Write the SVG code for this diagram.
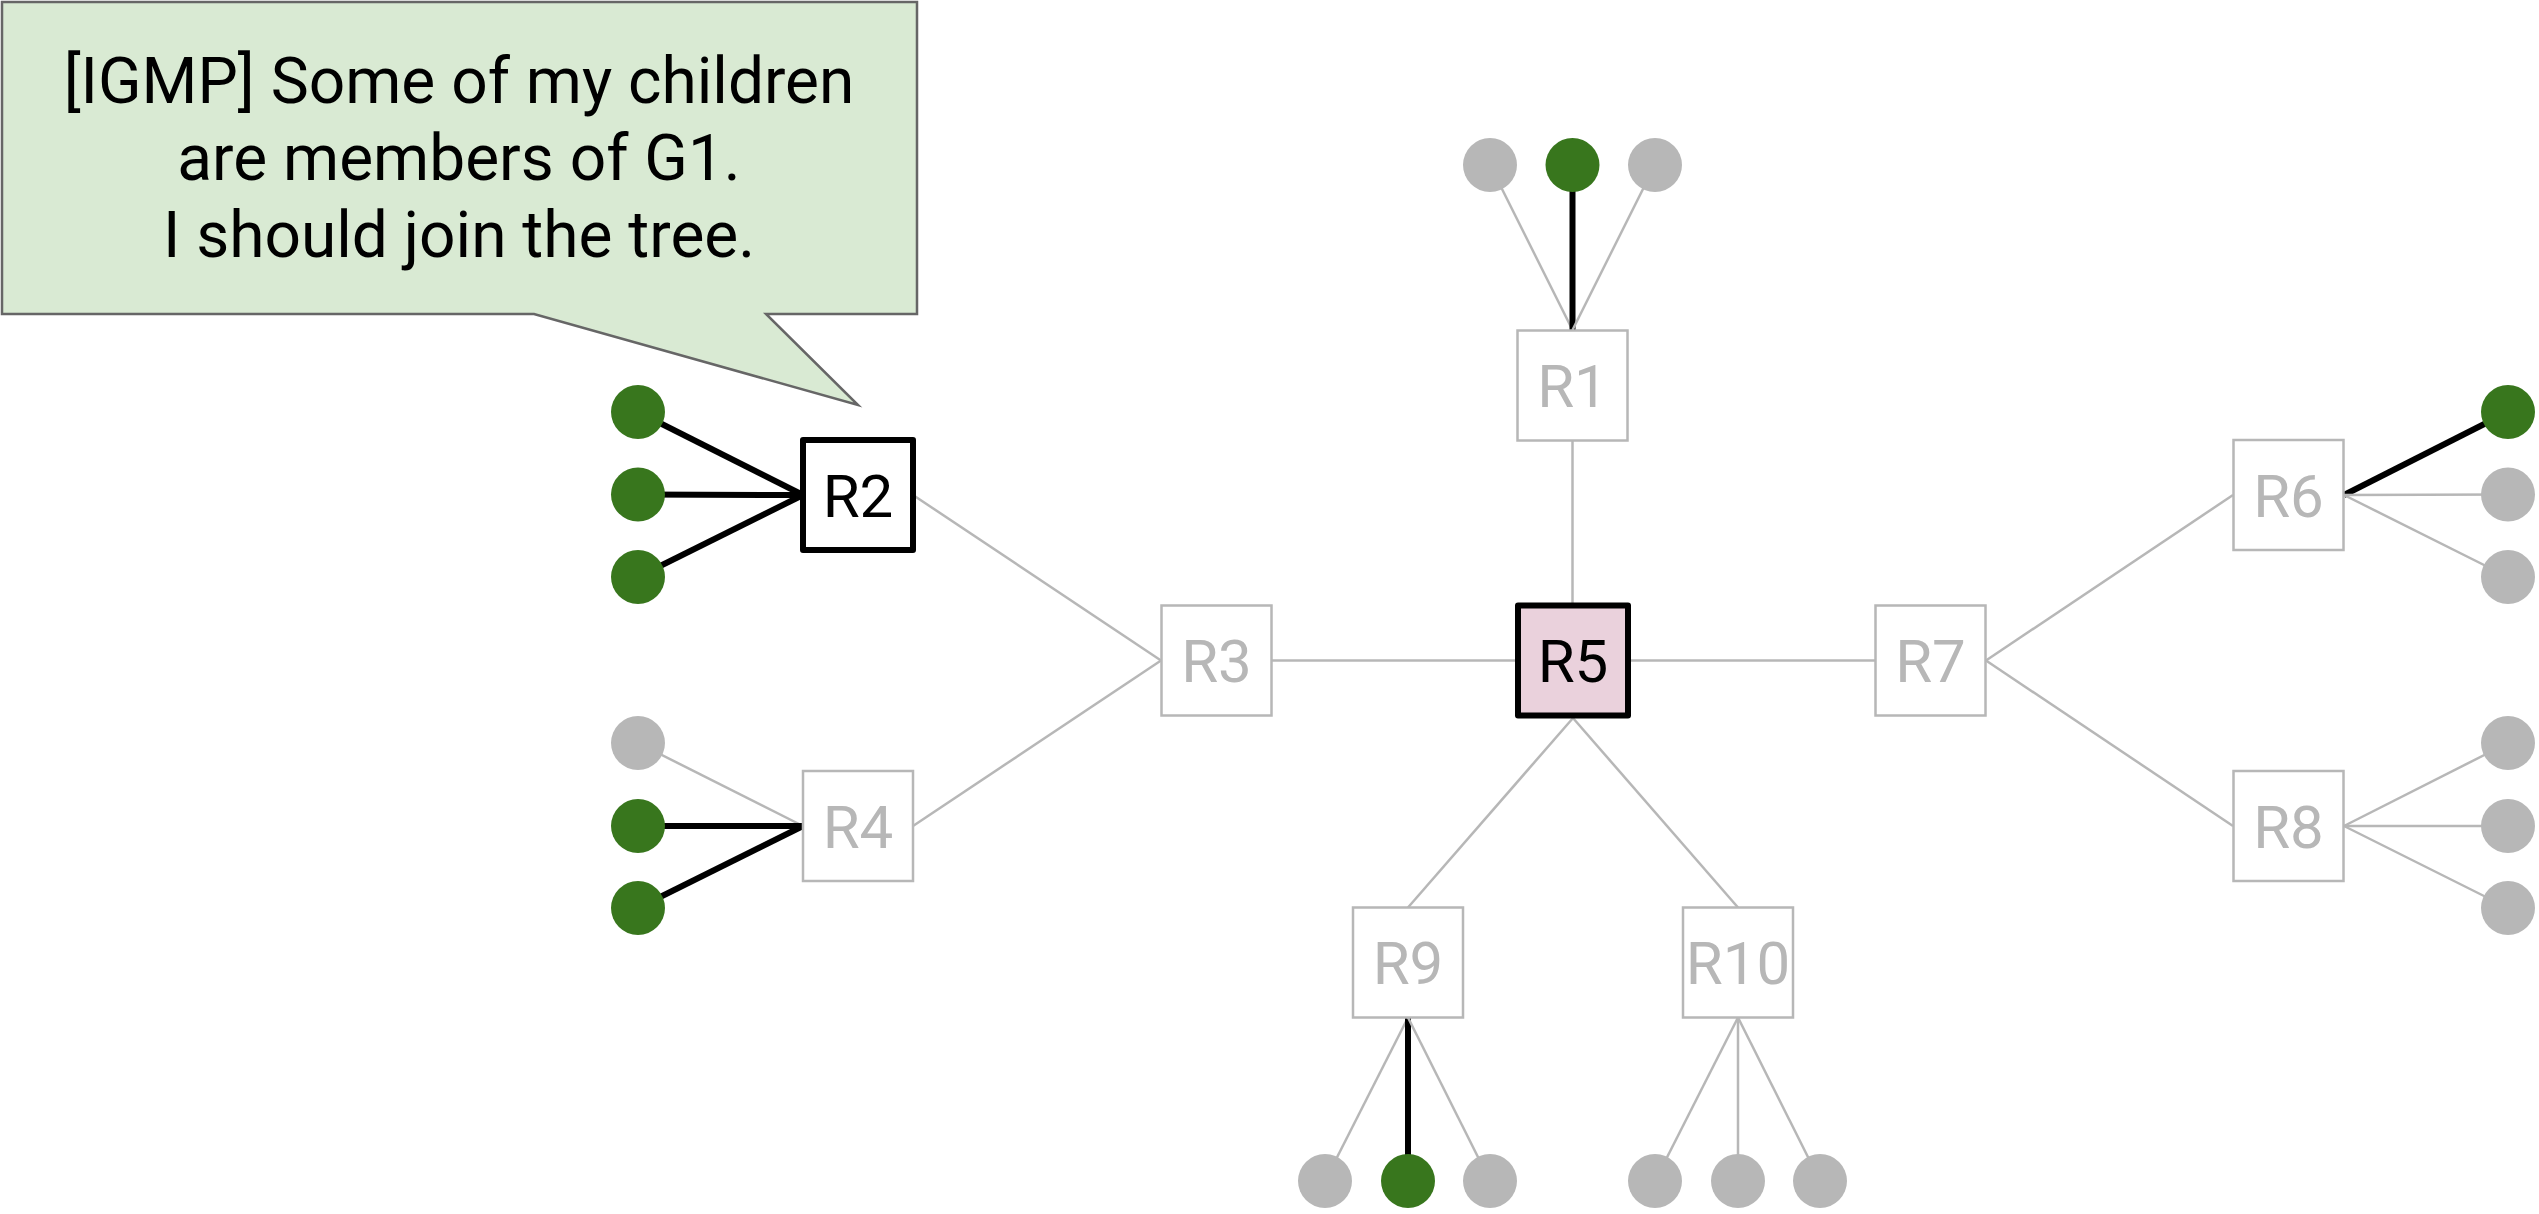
<svg xmlns="http://www.w3.org/2000/svg" width="2539" height="1214" viewBox="0 0 2539 1214">
<style>
.bg{fill:#ffffff}
.link{stroke:#b7b7b7;stroke-width:2.5;fill:none}
.join{stroke:#000000;stroke-width:6;fill:none}
.box{fill:#ffffff;stroke:#b7b7b7;stroke-width:2.5}
.box-on{fill:#ffffff;stroke:#000000;stroke-width:6;stroke-linejoin:round}
.box-root{fill:#ead1dc;stroke:#000000;stroke-width:6;stroke-linejoin:round}
.lbl{font-family:Roboto,"Liberation Sans",sans-serif;font-size:60px;text-anchor:middle;fill:#b7b7b7}
.lbl-on{fill:#000000}
.host{fill:#b7b7b7}
.member{fill:#38761d}
.callout{fill:#d9ead3;stroke:#666666;stroke-width:2.5;stroke-linejoin:miter}
.ctext{font-family:Roboto,"Liberation Sans",sans-serif;font-size:64px;text-anchor:middle;fill:#000000}
</style>
<rect class="bg" x="0" y="0" width="2539" height="1214"/>

<g id="callout">
<path class="callout" d="M2,2 H917 V314 H766 L858,405 L534,314 H2 Z"/>
<text class="ctext" x="459" y="103">[IGMP] Some of my children</text>
<text class="ctext" x="459" y="180">are members of G1.</text>
<text class="ctext" x="459" y="257">I should join the tree.</text>
</g>

<g id="connectors">
<!-- router links -->
<line class="link" x1="913" y1="495" x2="1161" y2="660.5"/>
<line class="link" x1="913" y1="826" x2="1161" y2="660.5"/>
<line class="link" x1="1272" y1="660.5" x2="1515" y2="660.5"/>
<line class="link" x1="1631" y1="660.5" x2="1875" y2="660.5"/>
<line class="link" x1="1986" y1="660.5" x2="2233" y2="495"/>
<line class="link" x1="1986" y1="660.5" x2="2233" y2="826"/>
<line class="link" x1="1572.5" y1="441" x2="1572.5" y2="603"/>
<line class="link" x1="1573" y1="718" x2="1408" y2="907.5"/>
<line class="link" x1="1573" y1="718" x2="1738" y2="907.5"/>
<!-- R1 hosts -->
<line class="link" x1="1572.5" y1="330" x2="1490" y2="165"/>
<line class="join" x1="1572.5" y1="330" x2="1572.5" y2="165"/>
<line class="link" x1="1572.5" y1="330" x2="1655" y2="165"/>
<!-- R2 hosts -->
<line class="join" x1="803" y1="495" x2="638" y2="412"/>
<line class="join" x1="803" y1="495" x2="638" y2="494.5"/>
<line class="join" x1="803" y1="495" x2="638" y2="577"/>
<!-- R4 hosts -->
<line class="link" x1="803" y1="826" x2="638" y2="743"/>
<line class="join" x1="803" y1="826" x2="638" y2="826"/>
<line class="join" x1="803" y1="826" x2="638" y2="908"/>
<!-- R6 hosts -->
<line class="join" x1="2344" y1="495" x2="2508" y2="412"/>
<line class="link" x1="2344" y1="495" x2="2508" y2="494.5"/>
<line class="link" x1="2344" y1="495" x2="2508" y2="577"/>
<!-- R8 hosts -->
<line class="link" x1="2344" y1="826" x2="2508" y2="743"/>
<line class="link" x1="2344" y1="826" x2="2508" y2="826"/>
<line class="link" x1="2344" y1="826" x2="2508" y2="908"/>
<!-- R9 hosts -->
<line class="link" x1="1408" y1="1017.5" x2="1325" y2="1181"/>
<line class="join" x1="1408" y1="1017.5" x2="1408" y2="1181"/>
<line class="link" x1="1408" y1="1017.5" x2="1490" y2="1181"/>
<!-- R10 hosts -->
<line class="link" x1="1738" y1="1017.5" x2="1655" y2="1181"/>
<line class="link" x1="1738" y1="1017.5" x2="1738" y2="1181"/>
<line class="link" x1="1738" y1="1017.5" x2="1820" y2="1181"/>
</g>

<g id="R1"><rect class="box" x="1517.5" y="330.5" width="110" height="110"/><text class="lbl" x="1572.5" y="407">R1</text></g>
<g id="R2"><rect class="box-on" x="803" y="440" width="110" height="110"/><text class="lbl lbl-on" x="858" y="516.5">R2</text></g>
<g id="R3"><rect class="box" x="1161.5" y="605.5" width="110" height="110"/><text class="lbl" x="1216.5" y="682">R3</text></g>
<g id="R4"><rect class="box" x="803" y="771" width="110" height="110"/><text class="lbl" x="858" y="847.5">R4</text></g>
<g id="R5"><rect class="box-root" x="1518" y="605.5" width="110" height="110"/><text class="lbl lbl-on" x="1573" y="682">R5</text></g>
<g id="R6"><rect class="box" x="2233.5" y="440" width="110" height="110"/><text class="lbl" x="2288.5" y="516.5">R6</text></g>
<g id="R7"><rect class="box" x="1875.5" y="605.5" width="110" height="110"/><text class="lbl" x="1930.5" y="682">R7</text></g>
<g id="R8"><rect class="box" x="2233.5" y="771" width="110" height="110"/><text class="lbl" x="2288.5" y="847.5">R8</text></g>
<g id="R9"><rect class="box" x="1353" y="907.5" width="110" height="110"/><text class="lbl" x="1408" y="984">R9</text></g>
<g id="R10"><rect class="box" x="1683" y="907.5" width="110" height="110"/><text class="lbl" x="1738" y="984">R10</text></g>

<g id="hosts-R1">
<circle class="host" cx="1490" cy="165" r="27"/>
<circle class="member" cx="1572.5" cy="165" r="27"/>
<circle class="host" cx="1655" cy="165" r="27"/>
</g>
<g id="hosts-R2">
<circle class="member" cx="638" cy="412" r="27"/>
<circle class="member" cx="638" cy="494.5" r="27"/>
<circle class="member" cx="638" cy="577" r="27"/>
</g>
<g id="hosts-R4">
<circle class="host" cx="638" cy="743" r="27"/>
<circle class="member" cx="638" cy="826" r="27"/>
<circle class="member" cx="638" cy="908" r="27"/>
</g>
<g id="hosts-R6">
<circle class="member" cx="2508" cy="412" r="27"/>
<circle class="host" cx="2508" cy="494.5" r="27"/>
<circle class="host" cx="2508" cy="577" r="27"/>
</g>
<g id="hosts-R8">
<circle class="host" cx="2508" cy="743" r="27"/>
<circle class="host" cx="2508" cy="826" r="27"/>
<circle class="host" cx="2508" cy="908" r="27"/>
</g>
<g id="hosts-R9">
<circle class="host" cx="1325" cy="1181" r="27"/>
<circle class="member" cx="1408" cy="1181" r="27"/>
<circle class="host" cx="1490" cy="1181" r="27"/>
</g>
<g id="hosts-R10">
<circle class="host" cx="1655" cy="1181" r="27"/>
<circle class="host" cx="1738" cy="1181" r="27"/>
<circle class="host" cx="1820" cy="1181" r="27"/>
</g>
</svg>
